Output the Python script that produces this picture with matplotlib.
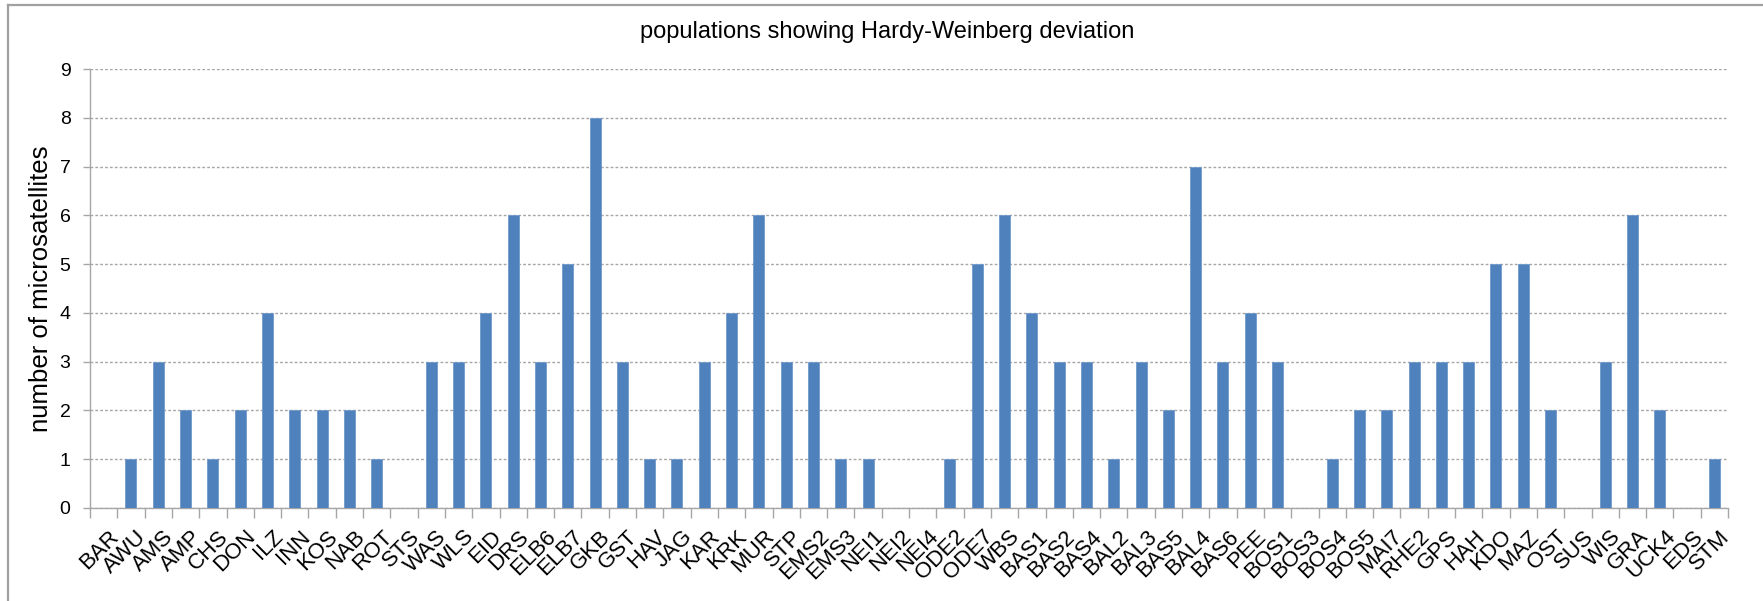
import matplotlib
matplotlib.use("Agg")
import matplotlib.pyplot as plt
from matplotlib.lines import Line2D
import matplotlib.transforms as mtransforms
import numpy as np

plt.rcParams['font.family'] = ['Liberation Sans', 'DejaVu Sans']

categories = ["BAR", "AWU", "AMS", "AMP", "CHS", "DON", "ILZ", "INN", "KOS", "NAB",
              "ROT", "STS", "WAS", "WLS", "EID", "DRS", "ELB6", "ELB7", "GKB", "GST",
              "HAV", "JAG", "KAR", "KRK", "MUR", "STP", "EMS2", "EMS3", "NEI1", "NEI2",
              "NEI4", "ODE2", "ODE7", "WBS", "BAS1", "BAS2", "BAS4", "BAL2", "BAL3", "BAS5",
              "BAL4", "BAS6", "PEE", "BOS1", "BOS3", "BOS4", "BOS5", "MAI7", "RHE2", "GPS",
              "HAH", "KDO", "MAZ", "OST", "SUS", "WIS", "GRA", "UCK4", "EDS", "STM"]
values = [0, 1, 3, 2, 1, 2, 4, 2, 2, 2,
          1, 0, 3, 3, 4, 6, 3, 5, 8, 3,
          1, 1, 3, 4, 6, 3, 3, 1, 1, 0,
          0, 1, 5, 6, 4, 3, 3, 1, 3, 2,
          7, 3, 4, 3, 0, 1, 2, 2, 3, 3,
          3, 5, 5, 2, 0, 3, 6, 2, 0, 1]
yticks = list(range(0, 10))
title = "populations showing Hardy-Weinberg deviation"
ylabel = "number of microsatellites"

W, H = 1763, 601
fig = plt.figure(figsize=(W / 100, H / 100), dpi=100)
left, right, top, bottom = 90, 1728, 69, 508
ax = fig.add_axes([left / W, (H - bottom) / H, (right - left) / W, (bottom - top) / H])

x = np.arange(len(categories))
ax.bar(x, values, width=0.4, color="#4F81BD", edgecolor="#7199cc", linewidth=0.6, zorder=3)

ax.set_xlim(-0.5, len(categories) - 0.5)
ax.set_ylim(0, 9)
ax.set_yticks(yticks)
ax.set_yticklabels([str(t) for t in yticks], fontsize=14)
ax.yaxis.grid(True, linestyle=(0, (2, 1.5)), color="#a6a6a6", linewidth=1.0, zorder=0)
ax.set_axisbelow(True)

ax.set_xticks(x)
ax.set_xticklabels(categories, rotation=45, ha="right", va="top",
                   rotation_mode="anchor", fontsize=16)
ax.tick_params(axis="x", which="major", length=0, pad=13)
offset = mtransforms.ScaledTranslation(5 / 100, 0, fig.dpi_scale_trans)
for lab in ax.get_xticklabels():
    lab.set_transform(lab.get_transform() + offset)
ax.set_xticks(np.arange(-0.5, len(categories)), minor=True)
ax.tick_params(axis="x", which="minor", length=7, color="#a6a6a6", width=1)
ax.tick_params(axis="y", length=5, color="#a6a6a6", width=1, pad=9)

for s in ["top", "right"]:
    ax.spines[s].set_visible(False)
for s in ["left", "bottom"]:
    ax.spines[s].set_color("#a6a6a6")
    ax.spines[s].set_linewidth(1.0)

ax.set_ylabel(ylabel, fontsize=18.5)
ax.yaxis.set_label_coords((53 - left) / (right - left), 0.5)
fig.text(887 / W, 1 - 32 / H, title, ha="center", va="center", fontsize=17)

# outer chart border (top and left visible)
fig.add_artist(Line2D([8 / W, 8 / W], [0, 1 - 5 / H], transform=fig.transFigure,
                      color="#a0a0a0", linewidth=1.6))
fig.add_artist(Line2D([8 / W, 1], [1 - 5 / H, 1 - 5 / H], transform=fig.transFigure,
                      color="#a0a0a0", linewidth=1.6))

fig.savefig("out.png", dpi=100)
